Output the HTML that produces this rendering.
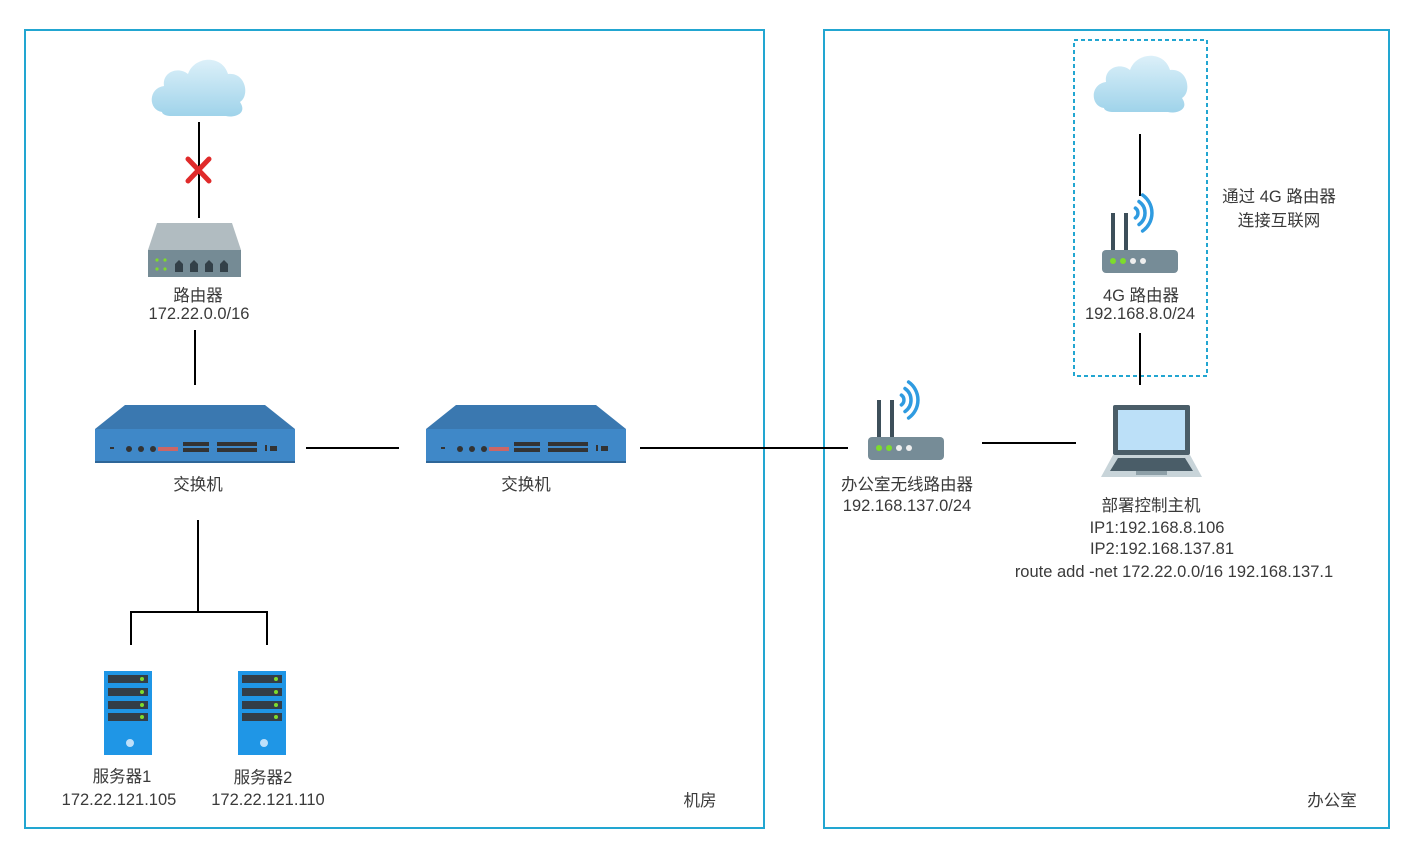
<!DOCTYPE html>
<html><head><meta charset="utf-8"><style>
body{margin:0;background:#fff}
text{font-family:"Liberation Sans","Noto Sans CJK SC",sans-serif;font-size:16.5px;fill:#3a3a3a;text-anchor:middle}
</style></head><body>
<svg width="1416" height="856" viewBox="0 0 1416 856" xmlns="http://www.w3.org/2000/svg">
<defs>
<linearGradient id="cl" x1="0" y1="0" x2="0" y2="1"><stop offset="0" stop-color="#dcf0f9"/><stop offset="1" stop-color="#9fd3ea"/></linearGradient>
<g id="cloud">
<path d="M12,60 C-2,58 -2,36 14,34 C12,20 28,14 38,22 C44,4 72,2 78,22 C96,20 100,44 90,50 C98,62 84,66 76,64 L20,64 C16,64 12,62 12,60 Z" fill="url(#cl)"/>
</g>
<g id="switch">
<polygon points="30,0 170,0 200,24 0,24" fill="#3a78b0"/>
<rect x="0" y="24" width="200" height="34" fill="#3f88c8"/>
<rect x="0" y="56" width="200" height="2" fill="#2e6698"/>
<g fill="#333">
<rect x="15" y="42" width="4" height="2"/><circle cx="34" cy="44" r="3"/><circle cx="46" cy="44" r="3"/><circle cx="58" cy="44" r="3"/>
<rect x="63" y="42" width="20" height="4" fill="#c66"/>
<rect x="88" y="37" width="26" height="4"/><rect x="88" y="43" width="26" height="4"/>
<rect x="122" y="37" width="40" height="4"/><rect x="122" y="43" width="40" height="4"/>
<rect x="170" y="40" width="2" height="6"/><rect x="175" y="41" width="7" height="5"/>
</g>
</g>
<g id="server">
<rect x="0" y="0" width="48" height="84" fill="#1f96e6"/>
<g fill="#333e48"><rect x="4" y="4" width="40" height="8"/><rect x="4" y="17" width="40" height="8"/><rect x="4" y="30" width="40" height="8"/><rect x="4" y="42" width="40" height="8"/></g>
<g fill="#7ddc2c"><circle cx="38" cy="8" r="2"/><circle cx="38" cy="21" r="2"/><circle cx="38" cy="34" r="2"/><circle cx="38" cy="46" r="2"/></g>
<circle cx="26" cy="72" r="4" fill="#bfe0fa"/>
</g>
<g id="wrouter">
<rect x="9" y="20" width="4" height="40" fill="#3d4f5a"/><rect x="22" y="20" width="4" height="40" fill="#3d4f5a"/>
<g stroke="#2f9be0" stroke-width="3.5" fill="none" stroke-linecap="round">
<path d="M33.4,15.1 A6,6 0 0 1 33.4,24.9"/>
<path d="M37,8.5 A14,14 0 0 1 37,31.5"/>
<path d="M40.6,2 A22,22 0 0 1 40.6,38"/>
</g>
<rect x="0" y="57" width="76" height="23" rx="4" fill="#768c97"/>
<circle cx="11" cy="68" r="3" fill="#7ddc2c"/><circle cx="21" cy="68" r="3" fill="#7ddc2c"/><circle cx="31" cy="68" r="3" fill="#eee"/><circle cx="41" cy="68" r="3" fill="#eee"/>
</g>
</defs>
<rect x="25" y="30" width="739" height="798" fill="none" stroke="#22a6d1" stroke-width="2"/>
<rect x="824" y="30" width="565" height="798" fill="none" stroke="#22a6d1" stroke-width="2"/>
<rect x="1074" y="40" width="133" height="336" fill="none" stroke="#22a6d1" stroke-width="2" stroke-dasharray="4,3"/>
<g stroke="#000" stroke-width="2" fill="none">
<line x1="199" y1="122" x2="199" y2="218"/>
<line x1="195" y1="330" x2="195" y2="385"/>
<line x1="306" y1="448" x2="399" y2="448"/>
<line x1="640" y1="448" x2="848" y2="448"/>
<line x1="198" y1="520" x2="198" y2="613"/>
<polyline points="131,645 131,612 267,612 267,645"/>
<line x1="982" y1="443" x2="1076" y2="443"/>
<line x1="1140" y1="134" x2="1140" y2="196"/>
<line x1="1140" y1="333" x2="1140" y2="385"/>
</g>
<use href="#cloud" x="150" y="52"/>
<use href="#cloud" x="1092" y="48"/>
<g stroke="#e02a2a" stroke-width="5" stroke-linecap="round"><line x1="188" y1="159" x2="209" y2="181"/><line x1="209" y1="159" x2="188" y2="181"/></g>
<polygon points="157,223 232,223 241,250 148,250" fill="#b1bcc1"/>
<rect x="148" y="250" width="93" height="27" fill="#758b95"/>
<g fill="#7ddc2c"><circle cx="157" cy="260" r="1.6"/><circle cx="165" cy="260" r="1.6"/><circle cx="157" cy="269" r="1.6"/><circle cx="165" cy="269" r="1.6"/></g>
<g fill="#334048"><path d="M175,272 v-8 l4,-4 l4,4 v8z"/><path d="M190,272 v-8 l4,-4 l4,4 v8z"/><path d="M205,272 v-8 l4,-4 l4,4 v8z"/><path d="M220,272 v-8 l4,-4 l4,4 v8z"/></g>
<use href="#switch" x="95" y="405"/>
<use href="#switch" x="426" y="405"/>
<use href="#server" x="104" y="671"/>
<use href="#server" x="238" y="671"/>
<use href="#wrouter" x="868" y="380"/>
<use href="#wrouter" x="1102" y="193"/>
<rect x="1113" y="405" width="77" height="50" rx="2" fill="#4a5d68"/>
<rect x="1118" y="410" width="67" height="40" fill="#bce0f8"/>
<polygon points="1113,455 1190,455 1202,477 1101,477" fill="#c8d4d9"/>
<polygon points="1118,458 1185,458 1193,471 1110,471" fill="#4a5d68"/>
<rect x="1136" y="471" width="31" height="4" fill="#8ea0a8"/>
<text x="198" y="301">路由器</text>
<text x="199" y="319">172.22.0.0/16</text>
<text x="198" y="490">交换机</text>
<text x="526" y="490">交换机</text>
<text x="122" y="782">服务器1</text>
<text x="119" y="805">172.22.121.105</text>
<text x="263" y="783">服务器2</text>
<text x="268" y="805">172.22.121.110</text>
<text x="700" y="806">机房</text>
<text x="1332" y="806">办公室</text>
<text x="907" y="490">办公室无线路由器</text>
<text x="907" y="511">192.168.137.0/24</text>
<text x="1141" y="301">4G 路由器</text>
<text x="1140" y="319">192.168.8.0/24</text>
<text x="1279" y="202">通过 4G 路由器</text>
<text x="1279" y="226">连接互联网</text>
<text x="1151" y="511">部署控制主机</text>
<text x="1157" y="533">IP1:192.168.8.106</text>
<text x="1162" y="554">IP2:192.168.137.81</text>
<text x="1174" y="577">route add -net 172.22.0.0/16 192.168.137.1</text>
</svg>
</body></html>
